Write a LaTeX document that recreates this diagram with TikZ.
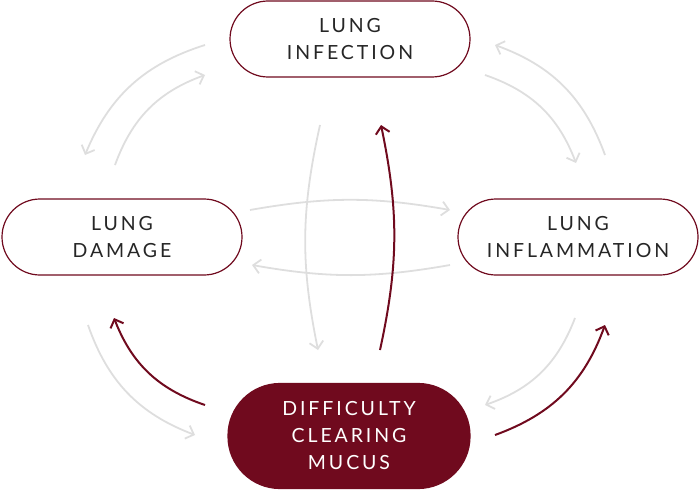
\documentclass[tikz,border=0pt]{standalone}
\usepackage{fontspec}
\setmainfont{Lato}[LetterSpace=15]
\usetikzlibrary{arrows.meta,positioning}
\definecolor{mucusred}{RGB}{112,10,30}
\definecolor{softgray}{RGB}{222,222,222}

\begin{document}
\begin{tikzpicture}[x=1pt,y=1pt,
    stage/.style={rectangle, draw=mucusred, line width=1.2pt, fill=white, rounded corners=38pt, minimum width=240pt, minimum height=76pt, align=center, font=\fontsize{19.5}{27}\selectfont, text=black!85},
    cycle/.style={-{Straight Barb[length=7pt,width=14pt]}, line width=1.8pt, softgray},
    push/.style={-{Straight Barb[length=7pt,width=14pt]}, line width=2pt, mucusred}]
    \useasboundingbox (0,0) rectangle (700,491);

    \node[stage] (infection) at (350,452) {LUNG\\INFECTION};
    \node[stage] (damage) at (122,254) {LUNG\\DAMAGE};
    \node[stage] (inflam) at (578,254) {LUNG\\INFLAMMATION};
    \node[stage, fill=mucusred, text=white, minimum width=242pt, minimum height=105pt, rounded corners=52pt] (mucus) at (349,55) {DIFFICULTY\\CLEARING\\MUCUS};

    % free ends of the arrows
    \coordinate (a1) at (205,446); \coordinate (a2) at (85,336);
    \coordinate (b1) at (115,326); \coordinate (b2) at (205,416);
    \coordinate (c1) at (605,336); \coordinate (c2) at (495,446);
    \coordinate (d1) at (485,416); \coordinate (d2) at (576,328);
    \coordinate (e1) at (250,281); \coordinate (e2) at (450,281);
    \coordinate (f1) at (450,226); \coordinate (f2) at (252,226);
    \coordinate (g1) at (320,366); \coordinate (g2) at (318,141);
    \coordinate (h1) at (380,141); \coordinate (h2) at (381,366);
    \coordinate (i1) at (88,166); \coordinate (i2) at (195,56);
    \coordinate (j1) at (205,86); \coordinate (j2) at (114,173);
    \coordinate (k1) at (575,173); \coordinate (k2) at (485,86);
    \coordinate (l1) at (495,56); \coordinate (l2) at (605,166);

    \draw[cycle] (a1) to[bend right=25] (a2);
    \draw[cycle] (b1) to[bend left=25] (b2);
    \draw[cycle] (c1) to[bend right=25] (c2);
    \draw[cycle] (d1) to[bend left=25] (d2);
    \draw[cycle] (e1) to[bend left=10] (e2);
    \draw[cycle] (f1) to[bend left=10] (f2);
    \draw[cycle] (g1) to[bend right=12] (g2);
    \draw[push] (h1) to[bend right=12] (h2);
    \draw[cycle] (i1) to[bend right=25] (i2);
    \draw[push] (j1) to[bend left=25] (j2);
    \draw[cycle] (k1) to[bend left=25] (k2);
    \draw[push] (l1) to[bend right=25] (l2);
\end{tikzpicture}
\end{document}
